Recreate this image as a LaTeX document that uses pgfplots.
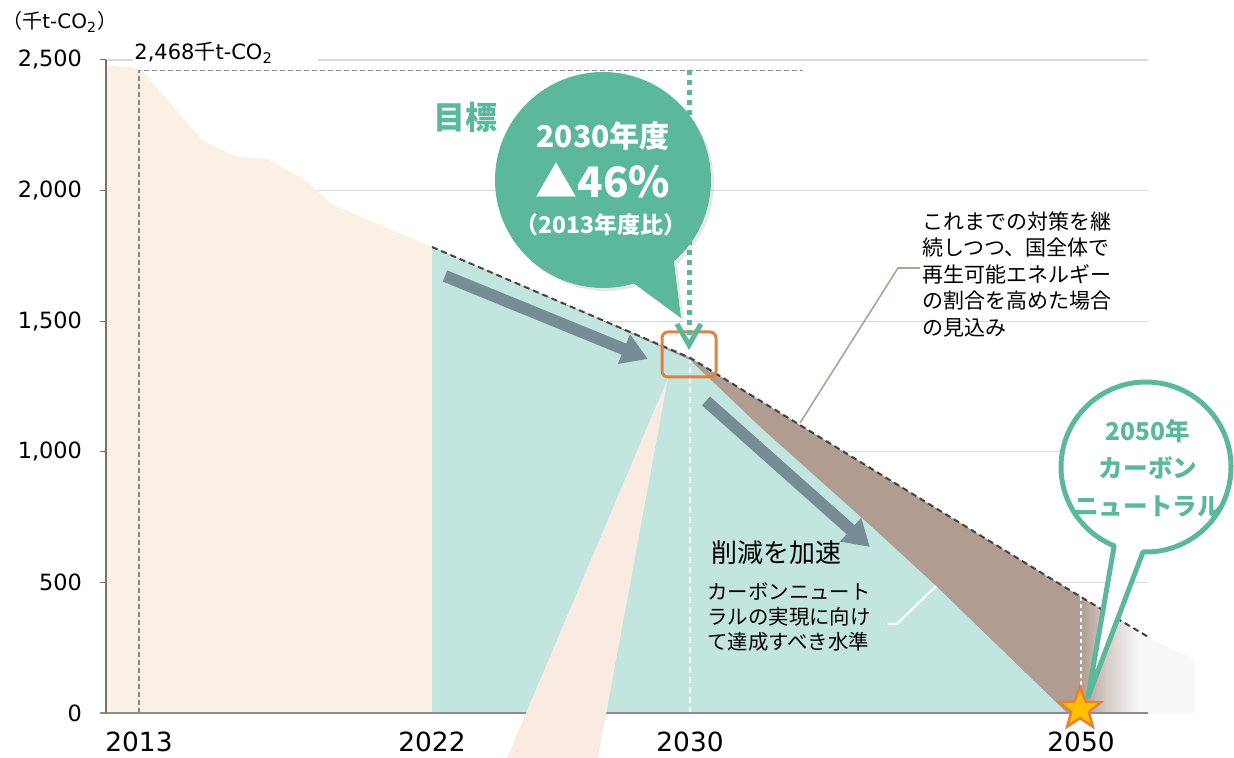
\documentclass[border=0pt]{standalone}
\usepackage{fontspec}
\setmainfont{Noto Sans CJK JP}
\newfontfamily\dv{DejaVu Sans}
\usepackage{pgfplots}
\pgfplotsset{compat=1.18}
\usetikzlibrary{arrows.meta,shapes.geometric,shadows}

\definecolor{beige}{HTML}{FAF1E4}
\definecolor{tealf}{HTML}{C2E6DF}
\definecolor{brn}{HTML}{B19C92}
\definecolor{bgl}{HTML}{F7F8FA}
\definecolor{grn}{HTML}{5BB89C}
\definecolor{slate}{HTML}{768D96}
\definecolor{orng}{HTML}{E47F3F}
\definecolor{pinkw}{HTML}{F9EBE2}
\definecolor{dkdash}{HTML}{444444}
\definecolor{grdash}{HTML}{8A8A8A}
\definecolor{gridc}{HTML}{D9D9D9}
\definecolor{yax}{HTML}{7A6F6F}
\definecolor{xax}{HTML}{8C8C8C}
\definecolor{lead}{HTML}{B3A097}
\definecolor{starf}{HTML}{FFC000}
\definecolor{stare}{HTML}{ED7D31}

\pgfdeclarehorizontalshading{fade}{100bp}{color(0bp)=(brn); color(25bp)=(brn); color(37bp)=(brn!45!bgl); color(50bp)=(bgl); color(100bp)=(bgl)}

% annotation positions are given in pixels of the 1234x758 layout
\def\pxparse#1,#2\pxend{%
  \pgfmathsetmacro\pxyv{(713-#2)*3.82848}%
  \pgfplotspointaxisxy{#1}{\pxyv}}
\tikzdeclarecoordinatesystem{px}{\pxparse#1\pxend}

\newcommand\fs[1]{\fontsize{#1}{1.2\dimexpr#1pt\relax}\selectfont}

\begin{document}
\begin{tikzpicture}
\begin{axis}[
    x=0.5pt, y=0.1306pt,
    xmin=106, xmax=1148, ymin=0, ymax=2500,
    axis lines=left, axis line style={draw=none,-},
    clip=false,
    ytick={0,500,1000,1500,2000,2500},
    yticklabels={0,500,{1,000},{1,500},{2,000},{2,500}},
    xtick={139,432,690,1081},
    xticklabels={2013,2022,2030,2050},
    xtick style={draw=none},
    ytick style={draw=yax, line width=0.5pt},
    tick align=outside, major tick length=3pt,
    yticklabel style={font=\dv\fs{11.2}, xshift=-5.5pt},
    xticklabel style={font=\dv\fs{13.2}, yshift=-3pt},
    ymajorgrids, grid style={gridc, line width=0.6pt},
]
% scenario areas
\addplot[fill=brn, draw=none] coordinates {(432,1784) (690,1360) (1081,444)} \closedcycle;
\addplot[shading=fade, draw=none] coordinates {(1081,444) (1150,287) (1195,203)} \closedcycle;
\addplot[fill=tealf, draw=none] coordinates {(432,1784) (600,1505) (690,1351) (760,1095) (875,701) (936,486) (1067,0)} \closedcycle;
% historical emissions
\addplot[fill=beige, draw=none] coordinates {(106,2478) (140,2470) (203,2190) (237,2129) (268,2121) (302,2048) (333,1945) (432,1784)} \closedcycle;

\addplot[white, line width=1pt, dash pattern=on 3pt off 2pt] coordinates {(690,0) (690,1351)};
\addplot[white, line width=0.75pt, dash pattern=on 2pt off 1.5pt] coordinates {(1081,0) (1081,444)};
\addplot[grdash, line width=0.75pt, dash pattern=on 2.5pt off 1.5pt] coordinates {(139,0) (139,2460) (803,2460)};
\addplot[dkdash, line width=1pt, dash pattern=on 3pt off 2pt] coordinates {(432,1784) (690,1360) (1081,444) (1150,287)};

% axis lines
\draw[xax, line width=1pt] (px cs:100,713) -- (px cs:1148,713);
\draw[yax, line width=0.6pt] (px cs:106,60) -- (px cs:106,713);

\fill[white] (px cs:133,50) rectangle (px cs:318,69);
\node[anchor=base west, inner sep=0pt, font=\fs{10.5}] at (px cs:134,60) {{\dv 2,468}千{\dv t-CO\textsubscript{2}}};
\node[anchor=west, inner sep=0pt, font=\fs{10}] at (px cs:2,22) {（千{\dv t-CO\textsubscript{2}}）};

% trend arrows
\draw[slate, line width=6pt, -{Triangle[length=13pt, width=15pt]}] (px cs:445,276) -- (px cs:648,359);
\draw[slate, line width=6pt, -{Triangle[length=13pt, width=15pt]}] (px cs:706,401) -- (px cs:870,547);

% leader lines and notes
\draw[lead, line width=0.8pt] (px cs:800,423) -- (px cs:898,268) -- (px cs:920,268);
\node[anchor=north west, inner sep=0pt, align=left, font=\fontsize{10.5}{13.25}\selectfont] at (px cs:922,211)
  {これまでの対策を継\\続しつつ、国全体で\\再生可能エネルギー\\の割合を高めた場合\\の見込み};
\draw[white, line width=1pt] (px cs:936,586) -- (px cs:897,624) -- (px cs:887,624);
\node[anchor=west, inner sep=0pt, font=\fs{13}] at (px cs:711,553) {削減を加速};
\node[anchor=north west, inner sep=0pt, align=left, font=\fontsize{10.2}{12.5}\selectfont] at (px cs:707,582)
  {カーボンニュート\\ラルの実現に向け\\て達成すべき水準};

% 2030 target marker
\draw[orng, line width=1.5pt, rounded corners=3pt] (px cs:662,332) rectangle (px cs:716,377);
\draw[grn, line width=2.5pt, dash pattern=on 2.5pt off 2.5pt] (px cs:689,70) -- (px cs:689,338);
\draw[grn, line width=2.5pt] (px cs:677,324) -- (px cs:689,345) -- (px cs:701,324);

\coordinate (C1) at (px cs:603,180);
\fill[grn, drop shadow={shadow xshift=1.5pt, shadow yshift=-1.5pt, opacity=0.18}]
  (px cs:681,318) -- ([shift={(311:54pt)}]C1) arc[start angle=311, end angle=646.7, radius=54pt] -- cycle;
\node[white, font=\bfseries\fs{15}] at (px cs:603,136) {2030年度};
\node[white, font=\bfseries\fs{21}] at (px cs:603,180) {▲46\%};
\node[white, font=\bfseries\fs{11.5}] at (px cs:601,225) {（2013年度比）};
\node[grn, font=\bfseries\fs{16}] at (px cs:465,117) {目標};

% pointer below the box
\fill[pinkw] (px cs:668,378) -- (px cs:507,758) -- (px cs:598,758) -- cycle;

% 2050 bubble
\coordinate (C2) at (px cs:1146,467);
\filldraw[fill=white, draw=grn, line width=2.5pt, line join=round]
  (px cs:1088,697) -- ([shift={(268:42.5pt)}]C2) arc[start angle=268, end angle=608, radius=42.5pt] -- cycle;
\node[grn, align=center, font=\bfseries\fontsize{12.3}{18.75}\selectfont] at (px cs:1148,468) {2050年\\カーボン\\ニュートラル};
\node[star, star points=5, star point ratio=2.4, minimum size=22pt, inner sep=0pt, fill=starf, draw=stare, line width=1.2pt] at (px cs:1080,709) {};

\coordinate (BL) at (px cs:0,758);
\coordinate (TR) at (px cs:1234,0);
\end{axis}
\pgfresetboundingbox
\path (BL) rectangle (TR);
\end{tikzpicture}
\end{document}
